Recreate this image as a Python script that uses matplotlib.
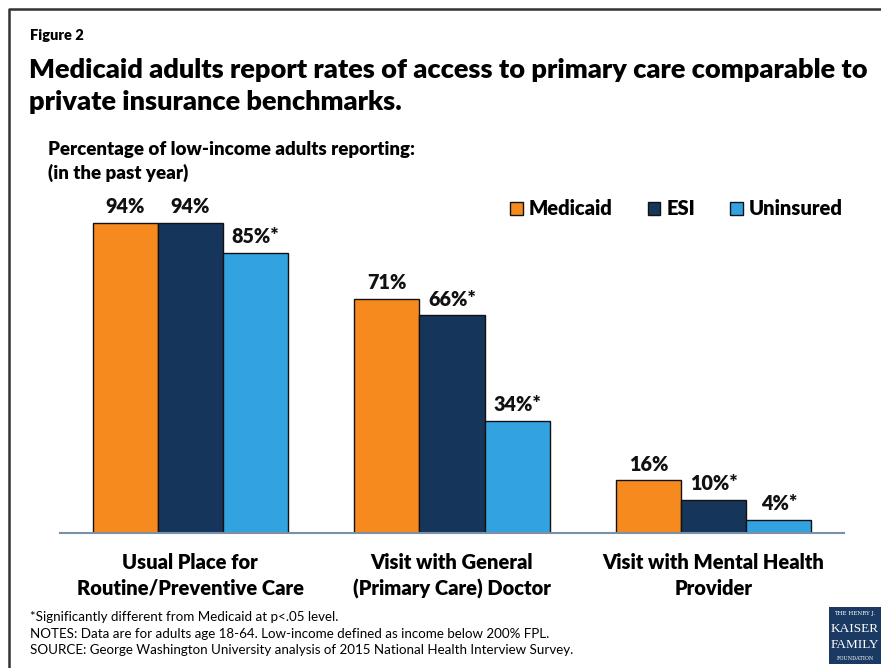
import matplotlib
matplotlib.use("Agg")
import matplotlib.pyplot as plt
from matplotlib.lines import Line2D
from matplotlib.patches import Rectangle
import numpy as np

# Access measures (groups) and share reporting each, by coverage type
categories = ["Usual Place for\nRoutine/Preventive Care",
              "Visit with General\n(Primary Care) Doctor",
              "Visit with Mental Health\nProvider"]
series = ["Medicaid", "ESI", "Uninsured"]
medicaid = [94, 71, 16]
esi = [94, 66, 10]
uninsured = [85, 34, 4]
# significance markers relative to Medicaid
esi_sig = [False, True, True]
uninsured_sig = [True, True, True]

colors = ["#F68A1E", "#15365A", "#33A3DF"]

W, H = 881, 668
plt.rcParams['font.family'] = ['Lato', 'DejaVu Sans']
BOLD = 800


def fx(x):
    return x / W


def fy(y):
    return 1 - y / H


fig = plt.figure(figsize=(W / 100, H / 100), dpi=100)

ax = fig.add_axes([fx(59.5), fy(533), (844.5 - 59.5) / W, 330 / H])
x = np.arange(len(categories))
bw = 0.249
values = [medicaid, esi, uninsured]
sigs = [[False] * 3, esi_sig, uninsured_sig]
for i, (vals, sg) in enumerate(zip(values, sigs)):
    pos = x + (i - 1) * bw
    ax.bar(pos, vals, width=bw, color=colors[i], edgecolor="#111111",
           linewidth=1.0, label=series[i], zorder=2)
    for p, v, s in zip(pos, vals, sg):
        ax.text(p, v + 2.0, f"{v}%" + ("*" if s else ""), ha="center",
                va="bottom", fontsize=14.2, fontweight=BOLD, color="#111111")

ax.set_xlim(-0.5, 2.5)
ax.set_ylim(0, 100)
for side in ["top", "right", "left"]:
    ax.spines[side].set_visible(False)
ax.spines["bottom"].set_color("#7A8FA8")
ax.spines["bottom"].set_linewidth(1.5)
ax.spines["bottom"].set_zorder(3)
ax.set_yticks([])
ax.set_xticks(x)
ax.set_xticklabels(categories, fontsize=14.5, fontweight=BOLD, linespacing=1.4)
ax.tick_params(axis="x", length=0, pad=14.5)

leg = ax.legend(loc="center right", bbox_to_anchor=(1.008, 0.982), ncol=3, frameon=False,
                fontsize=14.5, handlelength=0.62, handleheight=0.62,
                handletextpad=0.3, columnspacing=1.75, borderaxespad=0)
for t in leg.get_texts():
    t.set_fontweight(BOLD)

# titles and notes
fig.text(fx(30), fy(35), "Figure 2", fontsize=10.5, fontweight=BOLD, va="center")
fig.text(fx(29), fy(86), "Medicaid adults report rates of access to primary care comparable to\n"
         "private insurance benchmarks.", fontsize=19.5, fontweight=BOLD,
         va="center", linespacing=1.4)
fig.text(fx(48), fy(161.5), "Percentage of low-income adults reporting:\n(in the past year)",
         fontsize=13.5, fontweight=BOLD, va="center", linespacing=1.4)
fig.text(fx(30), fy(633.5), "*Significantly different from Medicaid at p<.05 level.\n"
         "NOTES: Data are for adults age 18-64. Low-income defined as income below 200% FPL.\n"
         "SOURCE: George Washington University analysis of 2015 National Health Interview Survey.",
         fontsize=9.6, va="center", linespacing=1.45)

# frame along left and top
fig.add_artist(Line2D([fx(9), fx(9), 1.0], [0.0, fy(9), fy(9)],
                      transform=fig.transFigure, color="#333333", linewidth=1.8))

# foundation logo
fig.add_artist(Rectangle((fx(829), fy(664)), 52 / W, 57 / H, transform=fig.transFigure,
                         facecolor="#1B3A63", edgecolor="none"))
fig.text(fx(855), fy(614), "THE HENRY J.", fontsize=4, color="white", ha="center",
         va="center", family="DejaVu Serif")
fig.text(fx(855), fy(629), "KAISER", fontsize=9.5, color="white", ha="center",
         va="center", family="Liberation Serif")
fig.text(fx(855), fy(645), "FAMILY", fontsize=9.5, color="white", ha="center",
         va="center", family="Liberation Serif")
fig.text(fx(855), fy(659), "FOUNDATION", fontsize=3.6, color="white", ha="center",
         va="center", family="DejaVu Serif")

fig.savefig("out.png", dpi=100)
